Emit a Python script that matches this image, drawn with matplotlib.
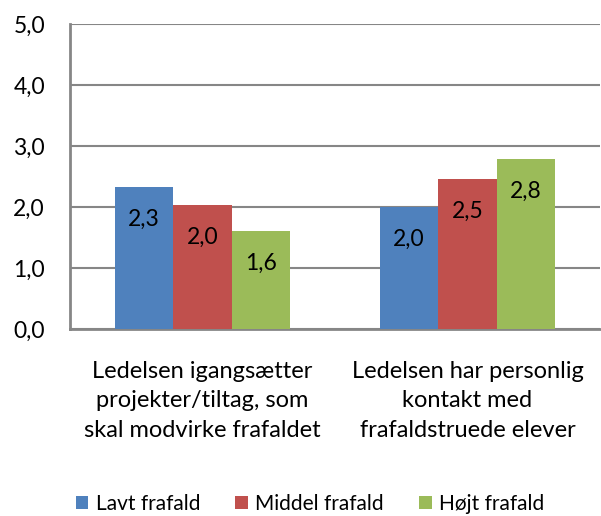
import matplotlib.pyplot as plt
import numpy as np

# data
categories = ['Ledelsen igangsætter\nprojekter/tiltag, som\nskal modvirke frafaldet',
              'Ledelsen har personlig\nkontakt med\nfrafaldstruede elever']
series = ['Lavt frafald', 'Middel frafald', 'Højt frafald']
lavt = [2.32, 2.00]
middel = [2.03, 2.46]
hojt = [1.60, 2.78]
colors = ['#4F81BD', '#C0504D', '#9BBB59']
yticks = [0, 1, 2, 3, 4, 5]

plt.rcParams['font.family'] = ['Lato', 'DejaVu Sans']

fig = plt.figure(figsize=(6.01, 5.16), dpi=100)
ax = fig.add_axes([70/601, 187/516, 530/601, 305/516])

x = np.arange(len(categories))
w = 0.221
for i, (vals, name) in enumerate(zip([lavt, middel, hojt], series)):
    bars = ax.bar(x + (i - 1) * w, vals, w, color=colors[i], label=name, zorder=3)
    for b, v in zip(bars, vals):
        ax.annotate(f'{v:.1f}'.replace('.', ','), (b.get_x() + b.get_width() / 2, v),
                    xytext=(0, -23), textcoords='offset points',
                    ha='center', va='center', fontsize=16.5, zorder=4)

ax.set_xlim(-0.5, 1.5)
ax.set_ylim(0, 5)
ax.set_yticks(yticks)
ax.set_yticklabels([f'{t:.1f}'.replace('.', ',') for t in yticks], fontsize=16.5)
ax.set_xticks(x)
ax.set_xticklabels(categories, fontsize=17, linespacing=1.5)
ax.tick_params(axis='y', length=0, pad=18)
ax.tick_params(axis='x', length=0, pad=23)
ax.grid(axis='y', color='#868686', linewidth=1.5, zorder=0)
for s in ['top', 'right']:
    ax.spines[s].set_visible(False)
for s in ['left', 'bottom']:
    ax.spines[s].set_color('#868686')
    ax.spines[s].set_linewidth(2)

fig.legend(loc='center', bbox_to_anchor=(310/601, 12/516), ncol=3, frameon=False,
           fontsize=15, handlelength=0.6, handleheight=0.6, columnspacing=1.7,
           handletextpad=0.35)

fig.savefig('out.png', dpi=100)
